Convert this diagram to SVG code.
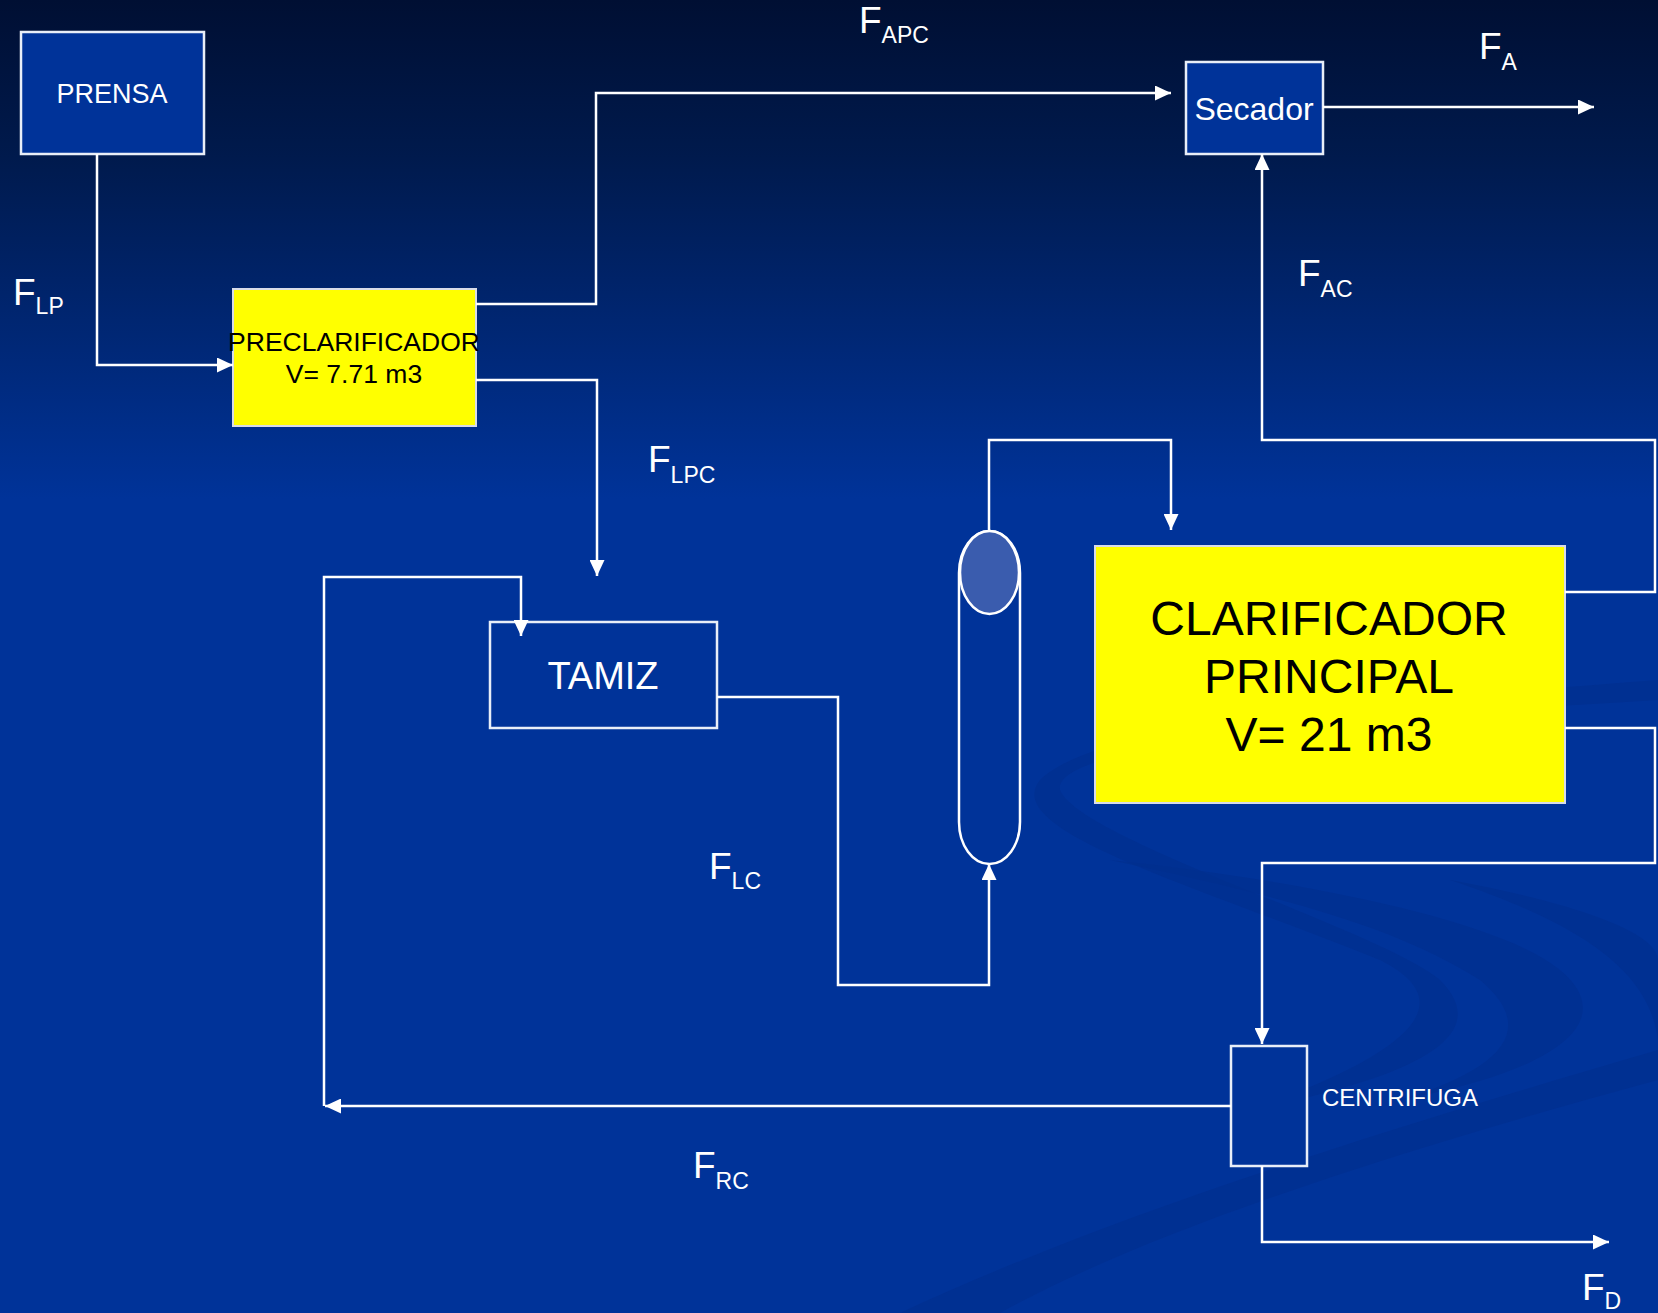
<svg xmlns="http://www.w3.org/2000/svg" width="1658" height="1313" viewBox="0 0 1658 1313">
<defs>
<linearGradient id="bg" x1="0" y1="0" x2="0" y2="1313" gradientUnits="userSpaceOnUse">
<stop offset="0" stop-color="#000f33"/>
<stop offset="0.12" stop-color="#001a4d"/>
<stop offset="0.38" stop-color="#003399"/>
<stop offset="1" stop-color="#003399"/>
</linearGradient>
<marker id="ah" viewBox="0 0 16 15" refX="16" refY="7.5" markerWidth="16" markerHeight="15" markerUnits="userSpaceOnUse" orient="auto">
<path d="M0,0 L16,7.5 L0,15 Z" fill="#ffffff"/>
</marker>
<style>
.box{fill:#003399;stroke:#e8eef8;stroke-width:2.5}
.ybox{fill:#ffff00;stroke:#d8dce8;stroke-width:2}
.con{fill:none;stroke:#ffffff;stroke-width:2.5;marker-end:url(#ah)}
.wt{font-family:"Liberation Sans",Arial,sans-serif;fill:#ffffff}
.bt{font-family:"Liberation Sans",Arial,sans-serif;fill:#000000}
.lbl{font-family:"Liberation Sans",Arial,sans-serif;fill:#ffffff;font-size:37px}
.sub{font-size:23px}
.swoosh{fill:#002f8e;opacity:0.7}
</style>
</defs>
<rect x="0" y="0" width="1658" height="1313" fill="url(#bg)"/>
<g id="background-swooshes">
<path class="swoosh" d="M1658,680 C1400,700 1100,720 1040,780 C1000,830 1180,880 1380,960 C1460,1000 1420,1050 1250,1110 C1400,1080 1500,1040 1440,980 C1380,930 1080,840 1060,790 C1050,740 1400,715 1658,700 Z"/>
<path class="swoosh" d="M900,1313 C1100,1220 1350,1140 1658,1050 L1658,1080 C1400,1150 1150,1230 1000,1313 Z"/>
<path class="swoosh" d="M1110,860 C1300,900 1400,930 1480,980 C1540,1030 1500,1070 1400,1100 C1560,1070 1620,1020 1560,970 C1500,920 1300,880 1110,860 Z"/>
<path class="swoosh" d="M1450,880 C1560,900 1658,930 1658,960 L1658,1040 C1650,980 1600,930 1450,880 Z"/>
</g>
<g id="prensa">
<rect class="box" x="21" y="32" width="183" height="122"/>
<text class="wt" x="112" y="103" font-size="27" text-anchor="middle">PRENSA</text>
</g>
<g id="preclarificador">
<rect class="ybox" x="233" y="289" width="243" height="137"/>
<text class="bt" x="354" y="351" font-size="26.5" text-anchor="middle">PRECLARIFICADOR</text>
<text class="bt" x="354" y="383" font-size="26.5" text-anchor="middle">V= 7.71 m3</text>
</g>
<g id="secador">
<rect class="box" x="1186" y="62" width="137" height="92"/>
<text class="wt" x="1254" y="120" font-size="32" text-anchor="middle">Secador</text>
</g>
<g id="tamiz">
<rect class="box" x="490" y="622" width="227" height="106"/>
<text class="wt" x="603" y="689" font-size="38" text-anchor="middle">TAMIZ</text>
</g>
<g id="column">
<path d="M959,573 A30.5,42 0 0 1 1020,573 V822 A30.5,42 0 0 1 959,822 Z" fill="none" stroke="#ffffff" stroke-width="2.5"/>
<ellipse cx="989.5" cy="572.5" rx="29.5" ry="41.5" fill="#3a5cae" stroke="#ffffff" stroke-width="2.5"/>
</g>
<g id="clarificador">
<rect class="ybox" x="1095" y="546" width="470" height="257"/>
<text class="bt" x="1329" y="635" font-size="48" text-anchor="middle">CLARIFICADOR</text>
<text class="bt" x="1329" y="693" font-size="48" text-anchor="middle">PRINCIPAL</text>
<text class="bt" x="1329" y="751" font-size="48" text-anchor="middle">V= 21 m3</text>
</g>
<g id="centrifuga">
<rect class="box" x="1231" y="1046" width="76" height="120"/>
<text class="wt" x="1322" y="1106" font-size="24">CENTRIFUGA</text>
</g>
<g id="connectors">
<path id="c-prensa-preclar" class="con" d="M97,154 V365 H233"/>
<path id="c-preclar-secador" class="con" d="M476,304 H596 V93 H1171"/>
<path id="c-preclar-tamiz" class="con" d="M476,380 H597 V576"/>
<path id="c-tamiz-column" class="con" d="M717,697 H838 V985 H989 V864"/>
<path id="c-column-clarif" class="con" d="M989,531 V440 H1171 V530"/>
<path id="c-clarif-secador" class="con" d="M1565,592 H1655 V440 H1262 V154"/>
<path id="c-secador-out" class="con" d="M1323,107 H1594"/>
<path id="c-clarif-centrif" class="con" d="M1565,728 H1655 V863 H1262 V1044"/>
<path id="c-centrif-recycle" class="con" d="M1231,1106 H325"/>
<path id="c-recycle-tamiz" class="con" d="M324,1106 V577 H521 V636"/>
<path id="c-centrif-out" class="con" d="M1262,1166 V1242 H1609"/>
</g>
<g id="labels">
<text class="lbl" x="859" y="33">F<tspan class="sub" dy="10">APC</tspan></text>
<text class="lbl" x="1479" y="59">F<tspan class="sub" dy="11">A</tspan></text>
<text class="lbl" x="13" y="305">F<tspan class="sub" dy="9">LP</tspan></text>
<text class="lbl" x="1298" y="286">F<tspan class="sub" dy="11">AC</tspan></text>
<text class="lbl" x="648" y="472">F<tspan class="sub" dy="11">LPC</tspan></text>
<text class="lbl" x="709" y="879">F<tspan class="sub" dy="10">LC</tspan></text>
<text class="lbl" x="693" y="1178">F<tspan class="sub" dy="11">RC</tspan></text>
<text class="lbl" x="1582" y="1300">F<tspan class="sub" dy="9">D</tspan></text>
</g>
</svg>
